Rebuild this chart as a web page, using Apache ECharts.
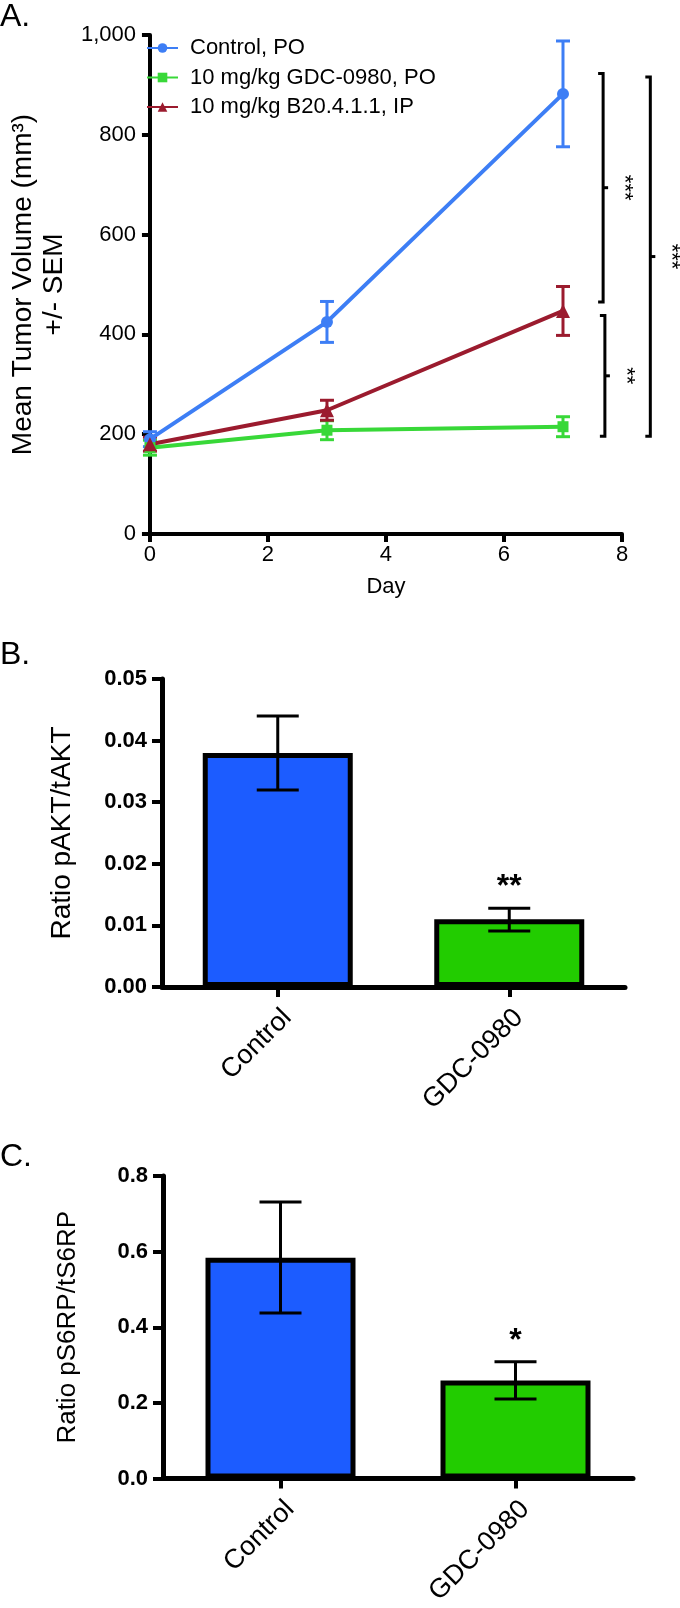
<!DOCTYPE html>
<html><head><meta charset="utf-8">
<script src="https://cdn.jsdelivr.net/npm/echarts@6/dist/echarts.min.js"></script>
<style>html,body{margin:0;padding:0;background:#fff;} #c{width:680px;height:1608px;}</style>
</head><body><div id="c"></div>
<script>
// ---------- Panel A: tumor growth ----------
const days = [0, 3, 7];
const seriesNames = ['Control, PO', '10 mg/kg GDC-0980, PO', '10 mg/kg B20.4.1.1, IP'];
const controlMean = [190, 425, 882];
const controlSem = [15, 41, 106];
const gdcMean = [173, 208, 215];
const gdcSem = [15, 19, 20];
const b20Mean = [180, 248, 447];
const b20Sem = [14, 20, 49];
// significance brackets (x in days, y in mm3)
const bracketX = [7.68, 7.71, 8.48];
const bracketTop = [923, 438, 916];
const bracketBottom = [465, 196, 196];
const bracketLabel = ['***', '**', '***'];

// ---------- Panel B: pAKT/tAKT ----------
const groups = ['Control', 'GDC-0980'];
const aktMean = [0.038, 0.011];
const aktLow = [0.032, 0.0091];
const aktHigh = [0.044, 0.0128];
const aktSig = ['', '**'];
const aktSigY = [0, 0.0162];

// ---------- Panel C: pS6RP/tS6RP ----------
const s6Mean = [0.584, 0.259];
const s6Low = [0.438, 0.21];
const s6High = [0.731, 0.309];
const s6Sig = ['', '*'];
const s6SigY = [0, 0.363];

const FONT = "'Liberation Sans', Arial, Helvetica, sans-serif";
const colors = ['#3d7ef5', '#38d838', '#9b1b2e'];
const barColors = ['#1c5cff', '#22cc00'];

function lineErr(idx, mean, sem) {
  const color = colors[idx];
  return {
    type: 'custom', xAxisIndex: 0, yAxisIndex: 0, silent: true, z: 2,
    data: days.map((d, i) => [d, mean[i] - sem[i], mean[i] + sem[i]]),
    encode: { x: 0, y: [1, 2] },
    renderItem: function (params, api) {
      const x = api.value(0);
      const lo = api.coord([x, api.value(1)]);
      const hi = api.coord([x, api.value(2)]);
      const w = 7;
      const st = { stroke: color, lineWidth: 3 };
      return { type: 'group', children: [
        { type: 'line', shape: { x1: lo[0], y1: lo[1], x2: hi[0], y2: hi[1] }, style: st },
        { type: 'line', shape: { x1: lo[0] - w, y1: lo[1], x2: lo[0] + w, y2: lo[1] }, style: st },
        { type: 'line', shape: { x1: hi[0] - w, y1: hi[1], x2: hi[0] + w, y2: hi[1] }, style: st }
      ]};
    }
  };
}

function barErr(axisIdx, low, high) {
  return {
    type: 'custom', xAxisIndex: axisIdx, yAxisIndex: axisIdx, silent: true, z: 5,
    data: groups.map((g, i) => [i, low[i], high[i]]),
    encode: { x: 0, y: [1, 2] },
    renderItem: function (params, api) {
      const x = api.value(0);
      const lo = api.coord([x, api.value(1)]);
      const hi = api.coord([x, api.value(2)]);
      const w = 21;
      const st = { stroke: '#000', lineWidth: 3 };
      return { type: 'group', children: [
        { type: 'line', shape: { x1: lo[0], y1: lo[1], x2: hi[0], y2: hi[1] }, style: st },
        { type: 'line', shape: { x1: lo[0] - w, y1: lo[1], x2: lo[0] + w, y2: lo[1] }, style: st },
        { type: 'line', shape: { x1: hi[0] - w, y1: hi[1], x2: hi[0] + w, y2: hi[1] }, style: st }
      ]};
    }
  };
}

function starSeries(axisIdx, sig, sigY) {
  return {
    type: 'custom', xAxisIndex: axisIdx, yAxisIndex: axisIdx, silent: true, z: 6,
    data: groups.map((g, i) => [i, sigY[i]]),
    renderItem: function (params, api) {
      const t = sig[params.dataIndex];
      if (!t) return null;
      const p = api.coord([api.value(0), api.value(1)]);
      return { type: 'text', x: p[0], y: p[1], style: {
        text: t, fontSize: 32, fontWeight: 'bold', fontFamily: FONT, fill: '#000',
        align: 'center', verticalAlign: 'middle' } };
    }
  };
}

const axisLineStyle = (w) => ({ show: true, lineStyle: { color: '#000', width: w } });

const option = {
  animation: false,
  backgroundColor: '#fff',
  textStyle: { fontFamily: FONT, color: '#000' },
  title: [
    { text: 'A.', left: 0, top: 1, padding: 0, textStyle: { fontSize: 32, fontWeight: 'normal', color: '#000', fontFamily: FONT } },
    { text: 'B.', left: 0, top: 639, padding: 0, textStyle: { fontSize: 32, fontWeight: 'normal', color: '#000', fontFamily: FONT } },
    { text: 'C.', left: 0, top: 1141, padding: 0, textStyle: { fontSize: 32, fontWeight: 'normal', color: '#000', fontFamily: FONT } }
  ],
  legend: {
    data: seriesNames, orient: 'vertical', left: 146, top: 36, padding: 0,
    itemWidth: 31, itemHeight: 12, itemGap: 5.5,
    textStyle: { fontSize: 22, lineHeight: 24, color: '#000', fontFamily: FONT, padding: [0, 0, 0, 7] }
  },
  grid: [
    { left: 125, top: 35, width: 497, height: 499 },
    { left: 162, top: 679, width: 463, height: 308 },
    { left: 163, top: 1176, width: 470, height: 316 }
  ],
  xAxis: [
    { gridIndex: 0, type: 'value', min: 0, max: 8, interval: 2,
      axisLine: axisLineStyle(4), axisTick: { show: true, length: 8, lineStyle: { color: '#000', width: 4 } },
      axisLabel: { fontSize: 22, color: '#000', margin: 10, fontFamily: FONT },
      splitLine: { show: false },
      name: 'Day', nameLocation: 'middle', nameGap: 42,
      nameTextStyle: { fontSize: 22, color: '#000', fontFamily: FONT } },
    { gridIndex: 1, type: 'category', data: groups,
      axisLine: axisLineStyle(5), axisTick: { show: true, alignWithLabel: true, length: 10, lineStyle: { color: '#000', width: 4 } },
      axisLabel: { rotate: 45, interval: 0, fontSize: 27, color: '#000', margin: 17, align: 'right', verticalAlign: 'top', fontFamily: FONT } },
    { gridIndex: 2, type: 'category', data: groups,
      axisLine: axisLineStyle(5), axisTick: { show: true, alignWithLabel: true, length: 10, lineStyle: { color: '#000', width: 4 } },
      axisLabel: { rotate: 45, interval: 0, fontSize: 27, color: '#000', margin: 17, align: 'right', verticalAlign: 'top', fontFamily: FONT } }
  ],
  yAxis: [
    { gridIndex: 0, type: 'value', min: 0, max: 1000, interval: 200,
      axisLine: axisLineStyle(4), axisTick: { show: true, length: 8, lineStyle: { color: '#000', width: 4 } },
      axisLabel: { fontSize: 22, color: '#000', margin: 14, fontFamily: FONT },
      splitLine: { show: false },
      name: 'Mean Tumor Volume (mm³)\n+/- SEM', nameLocation: 'middle', nameGap: 60,
      nameTextStyle: { fontSize: 28, lineHeight: 31, color: '#000', fontFamily: FONT } },
    { gridIndex: 1, type: 'value', min: 0, max: 0.05, interval: 0.01,
      axisLine: axisLineStyle(5), axisTick: { show: true, length: 10, lineStyle: { color: '#000', width: 4 } },
      axisLabel: { fontSize: 22, fontWeight: 'bold', color: '#000', margin: 15, fontFamily: FONT, formatter: v => v.toFixed(2) },
      splitLine: { show: false },
      name: 'Ratio pAKT/tAKT', nameLocation: 'middle', nameGap: 86,
      nameTextStyle: { fontSize: 28, color: '#000', fontFamily: FONT } },
    { gridIndex: 2, type: 'value', min: 0, max: 0.8, interval: 0.2,
      axisLine: axisLineStyle(5), axisTick: { show: true, length: 10, lineStyle: { color: '#000', width: 4 } },
      axisLabel: { fontSize: 22, fontWeight: 'bold', color: '#000', margin: 15, fontFamily: FONT, formatter: v => v.toFixed(1) },
      splitLine: { show: false },
      name: 'Ratio pS6RP/tS6RP', nameLocation: 'middle', nameGap: 82,
      nameTextStyle: { fontSize: 26, color: '#000', fontFamily: FONT } }
  ],
  series: [
    lineErr(0, controlMean, controlSem),
    lineErr(1, gdcMean, gdcSem),
    lineErr(2, b20Mean, b20Sem),
    { type: 'line', name: seriesNames[0], xAxisIndex: 0, yAxisIndex: 0, z: 3,
      data: days.map((d, i) => [d, controlMean[i]]), symbol: 'circle', symbolSize: 12,
      lineStyle: { width: 4, color: colors[0] }, itemStyle: { color: colors[0] } },
    { type: 'line', name: seriesNames[1], xAxisIndex: 0, yAxisIndex: 0, z: 3,
      data: days.map((d, i) => [d, gdcMean[i]]), symbol: 'rect', symbolSize: 11,
      lineStyle: { width: 4, color: colors[1] }, itemStyle: { color: colors[1] } },
    { type: 'line', name: seriesNames[2], xAxisIndex: 0, yAxisIndex: 0, z: 3,
      data: days.map((d, i) => [d, b20Mean[i]]), symbol: 'triangle', symbolSize: 14,
      lineStyle: { width: 4, color: colors[2] }, itemStyle: { color: colors[2] } },
    { type: 'custom', xAxisIndex: 0, yAxisIndex: 0, silent: true, clip: false, z: 4,
      data: bracketX.map((x, i) => [x, bracketTop[i], bracketBottom[i]]),
      renderItem: function (params, api) {
        const t = api.coord([api.value(0), api.value(1)]);
        const b = api.coord([api.value(0), api.value(2)]);
        const x = t[0], midY = (t[1] + b[1]) / 2;
        const st = { stroke: '#000', lineWidth: 3, fill: null };
        return { type: 'group', children: [
          { type: 'polyline', shape: { points: [[x - 5, t[1]], [x, t[1]], [x, b[1]], [x - 5, b[1]]] }, style: st },
          { type: 'line', shape: { x1: x, y1: midY, x2: x + 5, y2: midY }, style: st },
          { type: 'text', x: x + 21, y: midY, rotation: -Math.PI / 2, style: {
              text: bracketLabel[params.dataIndex], fontSize: 22, fontFamily: FONT, fill: '#000',
              align: 'center', verticalAlign: 'middle' } }
        ]};
      }
    },
    { type: 'bar', xAxisIndex: 1, yAxisIndex: 1, barWidth: 150, z: 2,
      data: aktMean.map((v, i) => ({ value: v, itemStyle: { color: barColors[i] } })),
      itemStyle: { borderColor: '#000', borderWidth: 5 } },
    barErr(1, aktLow, aktHigh),
    starSeries(1, aktSig, aktSigY),
    { type: 'bar', xAxisIndex: 2, yAxisIndex: 2, barWidth: 150, z: 2,
      data: s6Mean.map((v, i) => ({ value: v, itemStyle: { color: barColors[i] } })),
      itemStyle: { borderColor: '#000', borderWidth: 5 } },
    barErr(2, s6Low, s6High),
    starSeries(2, s6Sig, s6SigY)
  ]
};

const chart = echarts.init(document.getElementById('c'), null, { renderer: 'canvas', width: 680, height: 1608 });
chart.setOption(option);
</script>
</body></html>
